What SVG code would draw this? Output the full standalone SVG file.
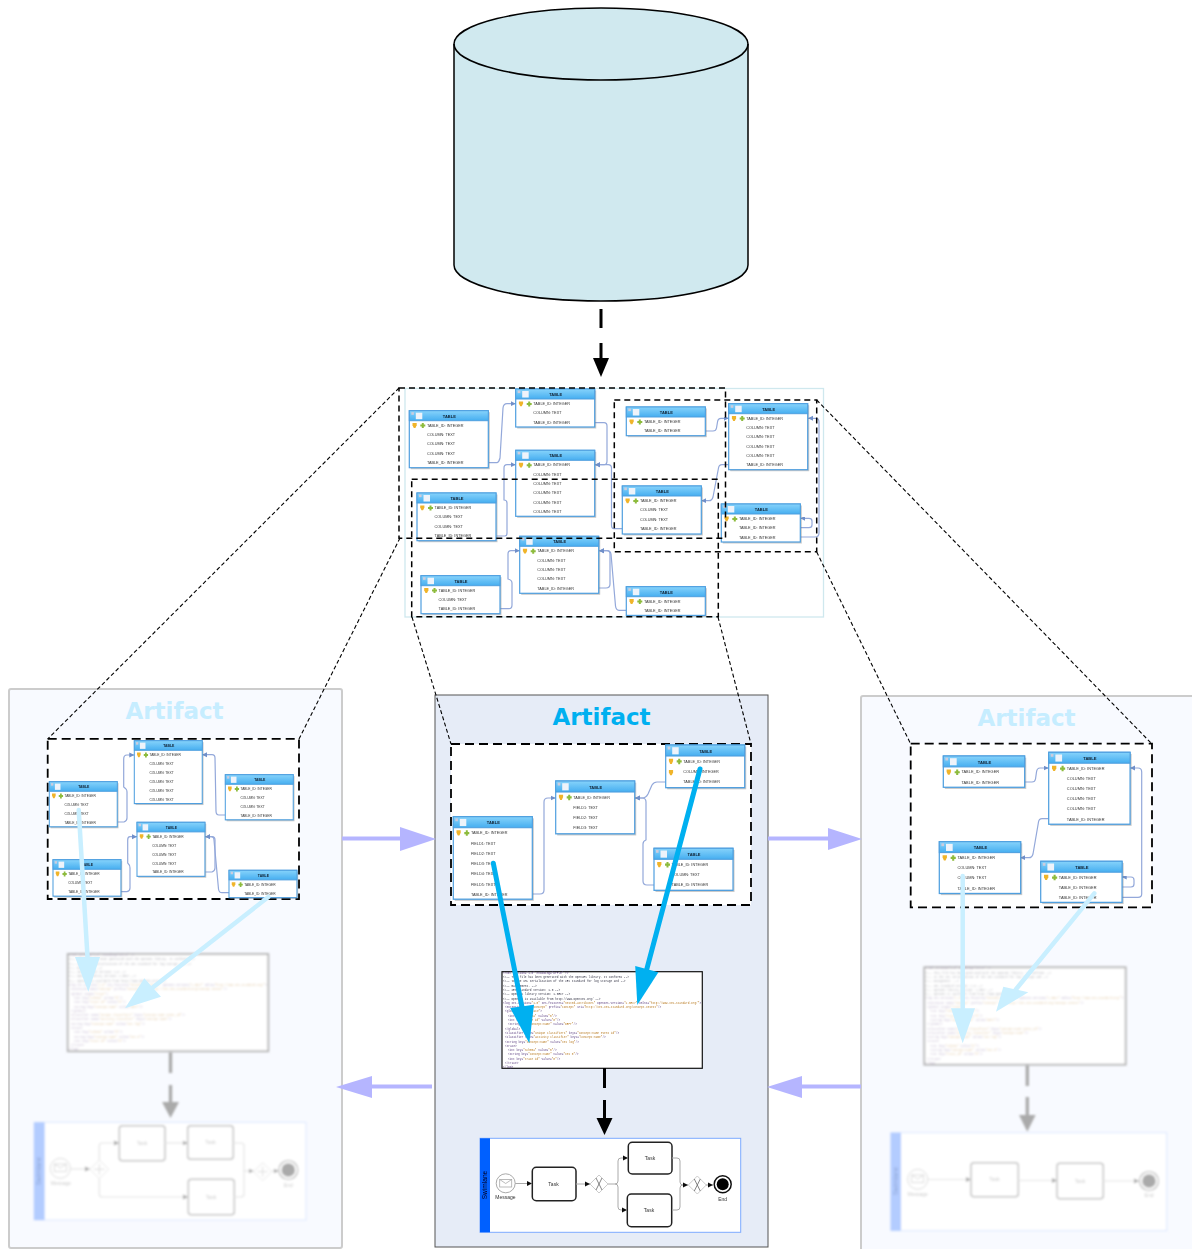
<svg xmlns="http://www.w3.org/2000/svg" width="1192" height="1249" viewBox="0 0 1192 1249">
<style>
text{font-family:"Liberation Sans",Arial,sans-serif}
.ht{font-size:4px;font-weight:bold;fill:#123;text-anchor:middle}
.r{font-size:3.8px;fill:#333}
.tb{filter:url(#soft)}
.sh{fill:#777;opacity:.4}
.bd{fill:#fff;stroke:#4f9fdf;stroke-width:1.200}
.cn{fill:none;stroke:#93a8da;stroke-width:1.200;stroke-linejoin:round;marker-end:url(#sm);filter:url(#soft)}
.dash{fill:none;stroke:#000;stroke-width:1.500;stroke-dasharray:6 4}
.dashw{fill:#fff;stroke:#000;stroke-width:1.800;stroke-dasharray:9 5}
.fun{fill:none;stroke:#000;stroke-width:1.100;stroke-dasharray:4 2.500}
.title{font-family:"DejaVu Sans",Verdana,sans-serif;font-weight:bold;font-size:23px;text-anchor:middle}
.x{font-family:"Liberation Mono","DejaVu Sans Mono",monospace;font-size:2.800px;fill:#334}
.t{fill:#5c3f80}
.v{fill:#b87a20}
.task{fill:#fff;stroke:#222;stroke-width:1.500}
.gw{fill:#fff;stroke:#ccc;stroke-width:1}
.ln{fill:none;stroke:#aaa;stroke-width:1}
.lnh{fill:none;stroke:#aaa;stroke-width:1;marker-end:url(#bh)}
.lb{font-size:5px;fill:#333;text-anchor:middle}
.sw{font-size:6.600px;fill:#002;text-anchor:middle}
.ftask{fill:#fff;stroke:#c4c4c4;stroke-width:1.500}
.fln{fill:none;stroke:#e4e4e4;stroke-width:1.200}
.flnh{fill:none;stroke:#e4e4e4;stroke-width:1.200;marker-end:url(#gh)}
.flb{font-size:5px;fill:#ccc;text-anchor:middle}
.fsw{font-size:6.600px;fill:#8fa6d6;text-anchor:middle}
.fgw{fill:#fff;stroke:#e8e8e8;stroke-width:1}
.soft{filter:url(#soft)}
.soft2{filter:url(#soft2)}
</style>
<defs>
<filter id="soft" x="-10%" y="-10%" width="120%" height="120%"><feGaussianBlur stdDeviation=".45"/></filter>
<filter id="soft2" x="-5%" y="-5%" width="110%" height="110%"><feGaussianBlur stdDeviation=".8"/></filter>
<linearGradient id="hg" x1="0" y1="0" x2="0" y2="1"><stop offset="0" stop-color="#86d3fb"/><stop offset="1" stop-color="#46aef0"/></linearGradient>
<marker id="sm" markerUnits="userSpaceOnUse" markerWidth="6" markerHeight="6" refX="5" refY="3" orient="auto"><path d="M0 .5L5 3L0 5.500z" fill="#6f8fc9"/></marker>
<marker id="bh" markerUnits="userSpaceOnUse" markerWidth="6" markerHeight="6" refX="5" refY="3" orient="auto"><path d="M0 .5L5 3L0 5.500z" fill="#111"/></marker>
<marker id="gh" markerUnits="userSpaceOnUse" markerWidth="6" markerHeight="6" refX="5" refY="3" orient="auto"><path d="M0 .5L5 3L0 5.500z" fill="#aaa"/></marker>
<g id="hd"><rect width="79" height="10" fill="url(#hg)" stroke="#4f9fdf"/><rect x="2" y="1.500" width="2.600" height="2.600" fill="#ccd"/><rect x="6.500" y="2" width="6.500" height="6.500" fill="#eef3fa"/></g>
<g id="k"><path d="M3.200-2.300h4.200v2.200l-1.300 2.600h-1.600l-1.300-2.600z" fill="#f0b429"/><path d="M11-.8h1.500v-1.500h2v1.500h1.500v2h-1.500v1.500h-2v-1.500h-1.500z" fill="#8dbb3c"/></g>
<g id="env"><rect x="-6" y="-3.500" width="12" height="7.500" fill="#fff" stroke="#aaa" stroke-width=".8"/><path d="M-6-3.500L0 .5L6-3.500" fill="none" stroke="#aaa" stroke-width=".8"/></g>
</defs>

<g id="database"><path d="M454 44a147 36 0 0 1 294 0v221a147 36 0 0 1-294 0z" fill="#d0e9ef" stroke="#000" stroke-width="1.500"/><path d="M454 44a147 36 0 0 0 294 0" fill="none" stroke="#000" stroke-width="1.500"/></g>

<g id="top-frame"><rect x="405" y="388.500" width="418.500" height="228.500" fill="#fff" stroke="#cfe8ee" stroke-width="1.300"/></g>

<g id="top-connectors">
<path class="cn" d="M488.700 462.700H497Q499 462 500 458L503 408Q503.500 403.700 507 403.700H515.700"/>
<path class="cn" d="M496.300 536H505Q507 536 507 533V503Q507 500 504 500V468Q504 464.700 507 464.700H515.700"/>
<path class="cn" d="M594.300 422.700H604Q607 422.700 607 426V461Q607 464.700 604 464.700H595"/>
<path class="cn" d="M622.300 528.700H614Q611.500 528.700 611.500 525V468Q611.500 464.700 608 464.700H595"/>
<path class="cn" d="M626.300 610.300H619Q616 610 615.500 606L611 554Q610.500 550.700 607 550.700H599"/>
<path class="cn" d="M598.300 588H606Q610 588 610 584V554Q610 550.700 607 550.700H599"/>
<path class="cn" d="M500.300 608.700H509Q512 608.700 512 605V583Q512 580 508 579V554Q508 550.700 511 550.700H519.700"/>
<path class="cn" d="M705.300 431H713Q716 431 716.500 428L717.500 422Q718 418.300 721 418.300H728.700"/>
<path class="cn" d="M728.700 464.700H722Q719 464.700 718.500 468L713 497Q712 500.700 709 500.700H701.300"/>
<path class="cn" d="M800.300 537H815Q819 537 819 533V422Q819 418.300 816 418.300H808"/>
<path class="cn" d="M800.300 527.700H809Q812 527.700 812 525V521Q812 518.300 809 518.300H800.300"/>
</g>

<g id="t1" class="tb" transform="translate(409.3,410.7)"><rect class="sh" x="1.500" y="1.500" width="79" height="57"/><rect class="bd" width="79" height="57"/><use href="#hd"/><text class="ht" x="40" y="7">TABLE</text><use href="#k" y="14.700"/><text class="r" x="17.600" y="16">TABLE_ID: INTEGER</text><text class="r" x="17.600" y="25.330">COLUMN: TEXT</text><text class="r" x="17.600" y="34.660">COLUMN: TEXT</text><text class="r" x="17.600" y="44">COLUMN: TEXT</text><text class="r" x="17.600" y="53.330">TABLE_ID: INTEGER</text></g>
<g id="t2" class="tb" transform="translate(515.7,389)"><rect class="sh" x="1.500" y="1.500" width="79" height="38"/><rect class="bd" width="79" height="38"/><use href="#hd"/><text class="ht" x="40" y="7">TABLE</text><use href="#k" y="14.700"/><text class="r" x="17.600" y="16">TABLE_ID: INTEGER</text><text class="r" x="17.600" y="25.330">COLUMN: TEXT</text><text class="r" x="17.600" y="34.660">TABLE_ID: INTEGER</text></g>
<g id="t3" class="tb" transform="translate(515.7,450.3)"><rect class="sh" x="1.500" y="1.500" width="79" height="66"/><rect class="bd" width="79" height="66"/><use href="#hd"/><text class="ht" x="40" y="7">TABLE</text><use href="#k" y="14.700"/><text class="r" x="17.600" y="16">TABLE_ID: INTEGER</text><text class="r" x="17.600" y="25.330">COLUMN: TEXT</text><text class="r" x="17.600" y="34.660">COLUMN: TEXT</text><text class="r" x="17.600" y="44">COLUMN: TEXT</text><text class="r" x="17.600" y="53.330">COLUMN: TEXT</text><text class="r" x="17.600" y="62.660">COLUMN: TEXT</text></g>
<g id="t4" class="tb" transform="translate(417,493)"><rect class="sh" x="1.500" y="1.500" width="79" height="47.700"/><rect class="bd" width="79" height="47.700"/><use href="#hd"/><text class="ht" x="40" y="7">TABLE</text><use href="#k" y="14.700"/><text class="r" x="17.600" y="16">TABLE_ID: INTEGER</text><text class="r" x="17.600" y="25.330">COLUMN: TEXT</text><text class="r" x="17.600" y="34.660">COLUMN: TEXT</text><text class="r" x="17.600" y="44">TABLE_ID: INTEGER</text></g>
<g id="t5" class="tb" transform="translate(519.7,536.3)"><rect class="sh" x="1.500" y="1.500" width="79" height="57"/><rect class="bd" width="79" height="57"/><use href="#hd"/><text class="ht" x="40" y="7">TABLE</text><use href="#k" y="14.700"/><text class="r" x="17.600" y="16">TABLE_ID: INTEGER</text><text class="r" x="17.600" y="25.330">COLUMN: TEXT</text><text class="r" x="17.600" y="34.660">COLUMN: TEXT</text><text class="r" x="17.600" y="44">COLUMN: TEXT</text><text class="r" x="17.600" y="53.330">TABLE_ID: INTEGER</text></g>
<g id="t6" class="tb" transform="translate(421,575.7)"><rect class="sh" x="1.500" y="1.500" width="79" height="38"/><rect class="bd" width="79" height="38"/><use href="#hd"/><text class="ht" x="40" y="7">TABLE</text><use href="#k" y="14.700"/><text class="r" x="17.600" y="16">TABLE_ID: INTEGER</text><text class="r" x="17.600" y="25.330">COLUMN: TEXT</text><text class="r" x="17.600" y="34.660">TABLE_ID: INTEGER</text></g>
<g id="t7" class="tb" transform="translate(626.3,586.7)"><rect class="sh" x="1.500" y="1.500" width="79" height="28.700"/><rect class="bd" width="79" height="28.700"/><use href="#hd"/><text class="ht" x="40" y="7">TABLE</text><use href="#k" y="14.700"/><text class="r" x="17.600" y="16">TABLE_ID: INTEGER</text><text class="r" x="17.600" y="25.330">TABLE_ID: INTEGER</text></g>
<g id="t8" class="tb" transform="translate(626.3,407)"><rect class="sh" x="1.500" y="1.500" width="79" height="28.700"/><rect class="bd" width="79" height="28.700"/><use href="#hd"/><text class="ht" x="40" y="7">TABLE</text><use href="#k" y="14.700"/><text class="r" x="17.600" y="16">TABLE_ID: INTEGER</text><text class="r" x="17.600" y="25.330">TABLE_ID: INTEGER</text></g>
<g id="t9" class="tb" transform="translate(728.7,403.7)"><rect class="sh" x="1.500" y="1.500" width="79" height="66"/><rect class="bd" width="79" height="66"/><use href="#hd"/><text class="ht" x="40" y="7">TABLE</text><use href="#k" y="14.700"/><text class="r" x="17.600" y="16">TABLE_ID: INTEGER</text><text class="r" x="17.600" y="25.330">COLUMN: TEXT</text><text class="r" x="17.600" y="34.660">COLUMN: TEXT</text><text class="r" x="17.600" y="44">COLUMN: TEXT</text><text class="r" x="17.600" y="53.330">COLUMN: TEXT</text><text class="r" x="17.600" y="62.660">TABLE_ID: INTEGER</text></g>
<g id="t10" class="tb" transform="translate(622.3,486)"><rect class="sh" x="1.500" y="1.500" width="79" height="48"/><rect class="bd" width="79" height="48"/><use href="#hd"/><text class="ht" x="40" y="7">TABLE</text><use href="#k" y="14.700"/><text class="r" x="17.600" y="16">TABLE_ID: INTEGER</text><text class="r" x="17.600" y="25.330">COLUMN: TEXT</text><text class="r" x="17.600" y="34.660">COLUMN: TEXT</text><text class="r" x="17.600" y="44">TABLE_ID: INTEGER</text></g>
<g id="t11" class="tb" transform="translate(721.3,504)"><rect class="sh" x="1.500" y="1.500" width="79" height="38"/><rect class="bd" width="79" height="38"/><use href="#hd"/><text class="ht" x="40" y="7">TABLE</text><use href="#k" y="14.700"/><text class="r" x="17.600" y="16">TABLE_ID: INTEGER</text><text class="r" x="17.600" y="25.330">TABLE_ID: INTEGER</text><text class="r" x="17.600" y="34.660">TABLE_ID: INTEGER</text></g>

<g id="selections"><rect class="dash" x="399" y="388" width="326.500" height="150.300"/><rect class="dash" x="411.700" y="479.300" width="306.600" height="137.400"/><rect class="dash" x="614.300" y="400" width="202.400" height="151.700"/></g>

<g id="panel-left"><rect x="9" y="689" width="333" height="559" rx="2" fill="#f8faff" stroke="#ccc" stroke-width="2"/><text class="title" x="174.500" y="719" fill="#c6edff">Artifact</text><rect class="dashw" x="47.700" y="738.800" width="251.300" height="160.200"/></g>
<g id="panel-center"><rect x="435" y="695" width="333" height="552" fill="#e6ecf7" stroke="#555" stroke-width="1"/><text class="title" x="601.500" y="725" fill="#00b0f0">Artifact</text><rect class="dashw" x="451" y="744" width="300" height="161"/></g>
<g id="panel-right"><rect x="861" y="696" width="340" height="560" rx="2" fill="#f8faff" stroke="#ccc" stroke-width="2"/><text class="title" x="1026.500" y="726" fill="#c6edff">Artifact</text><rect class="dashw" x="910.700" y="743.600" width="241.300" height="163.700"/></g>

<g id="funnels"><path class="fun" d="M399 388L47.700 739"/><path class="fun" d="M400 538L299 739"/><path class="fun" d="M412 617L451 744"/><path class="fun" d="M718 617L751 744"/><path class="fun" d="M816.700 400L1152 744"/><path class="fun" d="M816.700 552L910.700 744"/></g>

<g id="left-connectors">
<path class="cn" d="M117.300 822H124Q127 821 127 818V792Q127 789 123.700 787V759Q123.700 755 127 755H134.300"/>
<path class="cn" d="M225.300 815H219Q216 815 216 811L215 758Q215 754.700 212 754.700H202"/>
<path class="cn" d="M229 892.700H222Q219 892.700 218.500 889L214 840Q214 836.700 211 836.700H205.300"/>
<path class="cn" d="M205.300 872H212Q215 871 215 868V840Q215 836.700 212 836.700H205.300"/>
<path class="cn" d="M120.300 891.700H127Q130 891 130 888V868Q130 865 127.700 863V840Q127.700 836.700 130 836.700H137"/>
</g>
<g id="l1" class="tb" transform="translate(49.3,781.7) scale(.86,.96)"><rect class="sh" x="1.500" y="1.500" width="79" height="47"/><rect class="bd" width="79" height="47"/><use href="#hd"/><text class="ht" x="40" y="7">TABLE</text><use href="#k" y="14.700"/><text class="r" x="17.600" y="16">TABLE_ID: INTEGER</text><text class="r" x="17.600" y="25.330">COLUMN: TEXT</text><text class="r" x="17.600" y="34.660">COLUMN: TEXT</text><text class="r" x="17.600" y="44">TABLE_ID: INTEGER</text></g>
<g id="l2" class="tb" transform="translate(134.3,740.7) scale(.86,.96)"><rect class="sh" x="1.500" y="1.500" width="79" height="65.500"/><rect class="bd" width="79" height="65.500"/><use href="#hd"/><text class="ht" x="40" y="7">TABLE</text><use href="#k" y="14.700"/><text class="r" x="17.600" y="16">TABLE_ID: INTEGER</text><text class="r" x="17.600" y="25.330">COLUMN: TEXT</text><text class="r" x="17.600" y="34.660">COLUMN: TEXT</text><text class="r" x="17.600" y="44">COLUMN: TEXT</text><text class="r" x="17.600" y="53.330">COLUMN: TEXT</text><text class="r" x="17.600" y="62.660">COLUMN: TEXT</text></g>
<g id="l3" class="tb" transform="translate(225.3,774.7) scale(.86,.96)"><rect class="sh" x="1.500" y="1.500" width="79" height="47"/><rect class="bd" width="79" height="47"/><use href="#hd"/><text class="ht" x="40" y="7">TABLE</text><use href="#k" y="14.700"/><text class="r" x="17.600" y="16">TABLE_ID: INTEGER</text><text class="r" x="17.600" y="25.330">COLUMN: TEXT</text><text class="r" x="17.600" y="34.660">COLUMN: TEXT</text><text class="r" x="17.600" y="44">TABLE_ID: INTEGER</text></g>
<g id="l4" class="tb" transform="translate(137,822.3) scale(.86,.96)"><rect class="sh" x="1.500" y="1.500" width="79" height="56.300"/><rect class="bd" width="79" height="56.300"/><use href="#hd"/><text class="ht" x="40" y="7">TABLE</text><use href="#k" y="14.700"/><text class="r" x="17.600" y="16">TABLE_ID: INTEGER</text><text class="r" x="17.600" y="25.330">COLUMN: TEXT</text><text class="r" x="17.600" y="34.660">COLUMN: TEXT</text><text class="r" x="17.600" y="44">COLUMN: TEXT</text><text class="r" x="17.600" y="53.330">TABLE_ID: INTEGER</text></g>
<g id="l5" class="tb" transform="translate(53,859.7) scale(.86,.96)"><rect class="sh" x="1.500" y="1.500" width="79" height="38"/><rect class="bd" width="79" height="38"/><use href="#hd"/><text class="ht" x="40" y="7">TABLE</text><use href="#k" y="14.700"/><text class="r" x="17.600" y="16">TABLE_ID: INTEGER</text><text class="r" x="17.600" y="25.330">COLUMN: TEXT</text><text class="r" x="17.600" y="34.660">TABLE_ID: INTEGER</text></g>
<g id="l6" class="tb" transform="translate(229,870.3) scale(.86,.96)"><rect class="sh" x="1.500" y="1.500" width="79" height="28.500"/><rect class="bd" width="79" height="28.500"/><use href="#hd"/><text class="ht" x="40" y="7">TABLE</text><use href="#k" y="14.700"/><text class="r" x="17.600" y="16">TABLE_ID: INTEGER</text><text class="r" x="17.600" y="25.330">TABLE_ID: INTEGER</text></g>

<g id="center-connectors">
<path class="cn" d="M532.300 894H540Q544 894 544 890V802Q544 798 548 798H555.700"/>
<path class="cn" d="M665.700 782H657Q654 782 652 785L648 794Q646 798 642 798H635"/>
<path class="cn" d="M654 885H647Q643 885 643 881V844Q643 841 646 840V802Q646 798 642 798H635"/>
</g>
<g id="c1" class="tb" transform="translate(453.3,816.7) scale(1,1.1)"><rect class="sh" x="1.500" y="1.500" width="79" height="75"/><rect class="bd" width="79" height="75"/><use href="#hd"/><text class="ht" x="40" y="7">TABLE</text><use href="#k" y="14.700"/><text class="r" x="17.600" y="16">TABLE_ID: INTEGER</text><text class="r" x="17.600" y="25.330">FIELD1: TEXT</text><text class="r" x="17.600" y="34.660">FIELD2: TEXT</text><text class="r" x="17.600" y="44">FIELD3: TEXT</text><text class="r" x="17.600" y="53.330">FIELD4: TEXT</text><text class="r" x="17.600" y="62.660">FIELD5: TEXT</text><text class="r" x="17.600" y="72">TABLE_ID: INTEGER</text></g>
<g id="c2" class="tb" transform="translate(555.7,781) scale(1,1.1)"><rect class="sh" x="1.500" y="1.500" width="79" height="48"/><rect class="bd" width="79" height="48"/><use href="#hd"/><text class="ht" x="40" y="7">TABLE</text><use href="#k" y="14.700"/><text class="r" x="17.600" y="16">TABLE_ID: INTEGER</text><text class="r" x="17.600" y="25.330">FIELD1: TEXT</text><text class="r" x="17.600" y="34.660">FIELD2: TEXT</text><text class="r" x="17.600" y="44">FIELD3: TEXT</text></g>
<g id="c3" class="tb" transform="translate(665.7,745) scale(1,1.1)"><rect class="sh" x="1.500" y="1.500" width="79" height="38.800"/><rect class="bd" width="79" height="38.800"/><use href="#hd"/><text class="ht" x="40" y="7">TABLE</text><use href="#k" y="14.700"/><text class="r" x="17.600" y="16">TABLE_ID: INTEGER</text><path d="M3.200 22.700h4.200v2.200l-1.300 2.600h-1.600l-1.300-2.600z" fill="#f0b429"/><text class="r" x="17.600" y="25.330">COLUMN: INTEGER</text><text class="r" x="17.600" y="34.660">TABLE_ID: INTEGER</text></g>
<g id="c4" class="tb" transform="translate(654,848.3) scale(1,1.1)"><rect class="sh" x="1.500" y="1.500" width="79" height="38.200"/><rect class="bd" width="79" height="38.200"/><use href="#hd"/><text class="ht" x="40" y="7">TABLE</text><use href="#k" y="14.700"/><text class="r" x="17.600" y="16">TABLE_ID: INTEGER</text><text class="r" x="17.600" y="25.330">COLUMN: TEXT</text><text class="r" x="17.600" y="34.660">TABLE_ID: INTEGER</text></g>

<g id="right-connectors">
<path class="cn" d="M1024.300 782H1032Q1035 782 1035.500 779L1036.500 772Q1037 768 1040 768H1048.700"/>
<path class="cn" d="M1048.700 818.700H1042Q1039 818.700 1038.500 822L1033 854Q1032 857.700 1029 857.700H1020.300"/>
<path class="cn" d="M1121.700 897.300H1138Q1141.700 897.300 1141.700 894V772Q1141.700 768 1138 768H1130"/>
<path class="cn" d="M1121.700 887H1131Q1134 887 1134 884V880Q1134 877 1131 877H1121.700"/>
</g>
<g id="r1" class="tb" transform="translate(943.3,756) scale(1.03,1.09)"><rect class="sh" x="1.500" y="1.500" width="79" height="28.700"/><rect class="bd" width="79" height="28.700"/><use href="#hd"/><text class="ht" x="40" y="7">TABLE</text><use href="#k" y="14.700"/><text class="r" x="17.600" y="16">TABLE_ID: INTEGER</text><text class="r" x="17.600" y="25.330">TABLE_ID: INTEGER</text></g>
<g id="r2" class="tb" transform="translate(1048.7,752.3) scale(1.03,1.09)"><rect class="sh" x="1.500" y="1.500" width="79" height="66"/><rect class="bd" width="79" height="66"/><use href="#hd"/><text class="ht" x="40" y="7">TABLE</text><use href="#k" y="14.700"/><text class="r" x="17.600" y="16">TABLE_ID: INTEGER</text><text class="r" x="17.600" y="25.330">COLUMN: TEXT</text><text class="r" x="17.600" y="34.660">COLUMN: TEXT</text><text class="r" x="17.600" y="44">COLUMN: TEXT</text><text class="r" x="17.600" y="53.330">COLUMN: TEXT</text><text class="r" x="17.600" y="62.660">TABLE_ID: INTEGER</text></g>
<g id="r3" class="tb" transform="translate(939.3,841.7) scale(1.03,1.09)"><rect class="sh" x="1.500" y="1.500" width="79" height="47.500"/><rect class="bd" width="79" height="47.500"/><use href="#hd"/><text class="ht" x="40" y="7">TABLE</text><use href="#k" y="14.700"/><text class="r" x="17.600" y="16">TABLE_ID: INTEGER</text><text class="r" x="17.600" y="25.330">COLUMN: TEXT</text><text class="r" x="17.600" y="34.660">COLUMN: TEXT</text><text class="r" x="17.600" y="44">TABLE_ID: INTEGER</text></g>
<g id="r4" class="tb" transform="translate(1040.7,861.3) scale(1.03,1.09)"><rect class="sh" x="1.500" y="1.500" width="79" height="37.700"/><rect class="bd" width="79" height="37.700"/><use href="#hd"/><text class="ht" x="40" y="7">TABLE</text><use href="#k" y="14.700"/><text class="r" x="17.600" y="16">TABLE_ID: INTEGER</text><text class="r" x="17.600" y="25.330">TABLE_ID: INTEGER</text><text class="r" x="17.600" y="34.660">TABLE_ID: INTEGER</text></g>

<g id="doc-center" class="soft"><rect x="502" y="971.700" width="200.300" height="96.600" fill="#fff" stroke="#111" stroke-width="1.200"/>
<g id="xml">
<text class="x" x="503" y="973.700"><tspan class="t">&lt;?xml version="1.0" encoding="UTF-8" ?&gt;</tspan></text>
<text class="x" x="503" y="978">&lt;!-- This file has been generated with the OpenXES library. It conforms --&gt;</text>
<text class="x" x="503" y="982.300">&lt;!-- to the XML serialization of the XES standard for log storage and --&gt;</text>
<text class="x" x="503" y="986.600">&lt;!-- management. --&gt;</text>
<text class="x" x="503" y="990.900">&lt;!-- XES standard version: 1.0 --&gt;</text>
<text class="x" x="503" y="995.200">&lt;!-- OpenXES library version: 1.0RC7 --&gt;</text>
<text class="x" x="503" y="999.500">&lt;!-- OpenXES is available from http://www.openxes.org/ --&gt;</text>
<text class="x" x="503" y="1003.800"><tspan class="t">&lt;log xes.version=</tspan><tspan class="v">"1.0"</tspan><tspan class="t"> xes.features=</tspan><tspan class="v">"nested-attributes"</tspan><tspan class="t"> openxes.version=</tspan><tspan class="v">"1.0RC7"</tspan><tspan class="t"> xmlns=</tspan><tspan class="v">"http://www.xes-standard.org/"</tspan><tspan class="t">&gt;</tspan></text>
<text class="x" x="505" y="1008.100"><tspan class="t">&lt;extension name=</tspan><tspan class="v">"Concept"</tspan><tspan class="t"> prefix=</tspan><tspan class="v">"concept"</tspan><tspan class="t"> uri=</tspan><tspan class="v">"http://xes.xes-standard.org/concept.xesext"</tspan><tspan class="t">/&gt;</tspan></text>
<text class="x" x="505" y="1012.400"><tspan class="t">&lt;global scope=</tspan><tspan class="v">"trace"</tspan><tspan class="t">&gt;</tspan></text>
<text class="x" x="508" y="1016.700"><tspan class="t">&lt;int key=</tspan><tspan class="v">"Schema"</tspan><tspan class="t"> value=</tspan><tspan class="v">"0"</tspan><tspan class="t">/&gt;</tspan></text>
<text class="x" x="508" y="1021"><tspan class="t">&lt;int key=</tspan><tspan class="v">"trace_id"</tspan><tspan class="t"> value=</tspan><tspan class="v">"0"</tspan><tspan class="t">/&gt;</tspan></text>
<text class="x" x="508" y="1025.300"><tspan class="t">&lt;string key=</tspan><tspan class="v">"concept:name"</tspan><tspan class="t"> value=</tspan><tspan class="v">"DEPT"</tspan><tspan class="t">/&gt;</tspan></text>
<text class="x" x="505" y="1029.600"><tspan class="t">&lt;/global&gt;</tspan></text>
<text class="x" x="505" y="1033.900"><tspan class="t">&lt;classifier name=</tspan><tspan class="v">"Unique classifiers"</tspan><tspan class="t"> keys=</tspan><tspan class="v">"concept:name event_id"</tspan><tspan class="t">/&gt;</tspan></text>
<text class="x" x="505" y="1038.200"><tspan class="t">&lt;classifier name=</tspan><tspan class="v">"Activity classifier"</tspan><tspan class="t"> keys=</tspan><tspan class="v">"concept:name"</tspan><tspan class="t">/&gt;</tspan></text>
<text class="x" x="505" y="1042.500"><tspan class="t">&lt;string key=</tspan><tspan class="v">"concept:name"</tspan><tspan class="t"> value=</tspan><tspan class="v">"xes log"</tspan><tspan class="t">/&gt;</tspan></text>
<text class="x" x="505" y="1046.800"><tspan class="t">&lt;trace&gt;</tspan></text>
<text class="x" x="508" y="1051.100"><tspan class="t">&lt;int key=</tspan><tspan class="v">"Schema"</tspan><tspan class="t"> value=</tspan><tspan class="v">"0"</tspan><tspan class="t">/&gt;</tspan></text>
<text class="x" x="508" y="1055.400"><tspan class="t">&lt;string key=</tspan><tspan class="v">"concept:name"</tspan><tspan class="t"> value=</tspan><tspan class="v">"xes 0"</tspan><tspan class="t">/&gt;</tspan></text>
<text class="x" x="508" y="1059.700"><tspan class="t">&lt;int key=</tspan><tspan class="v">"trace_id"</tspan><tspan class="t"> value=</tspan><tspan class="v">"0"</tspan><tspan class="t">/&gt;</tspan></text>
<text class="x" x="505" y="1064"><tspan class="t">&lt;/trace&gt;</tspan></text>
<text class="x" x="503" y="1068"><tspan class="t">&lt;/log&gt;</tspan></text>
</g></g>
<g id="doc-left" class="soft2"><rect x="67.700" y="954" width="200.600" height="97.300" fill="#fff" stroke="#b4b4b4" stroke-width="1.800"/><use href="#xml" transform="translate(-434.3,-17.7)" opacity=".4"/></g>
<g id="doc-right" class="soft2"><rect x="924.300" y="967.300" width="201.400" height="97.400" fill="#fff" stroke="#b4b4b4" stroke-width="1.800"/><use href="#xml" transform="translate(422.3,-4.3)" opacity=".4"/></g>

<g id="bpmn-center" class="soft">
<rect x="480" y="1138.300" width="260.700" height="94" fill="#fff" stroke="#7eaaff"/><rect x="480" y="1138.300" width="10" height="94" fill="#0060ff"/>
<text class="sw" transform="translate(487.3,1185) rotate(-90)">Swimlane</text>
<g id="cb-msg"><circle cx="505.700" cy="1183.300" r="9.500" fill="#fff" stroke="#aaa"/><use href="#env" x="505.700" y="1183"/><text class="lb" x="505.500" y="1199">Message</text></g>
<g id="cb-t1"><rect class="task" x="532.300" y="1167.300" width="43.700" height="33.400" rx="4"/><text class="lb" x="553.500" y="1185.500">Task</text></g>
<g id="cb-gw1"><path class="gw" d="M599 1175l9 9l-9 9l-9-9z"/><path d="M596 1178l6 12M602 1178l-6 12" stroke="#666" stroke-width=".8"/></g>
<g id="cb-t2"><rect class="task" x="628.300" y="1142.300" width="43.700" height="31.700" rx="4"/><text class="lb" x="650" y="1159.700">Task</text></g>
<g id="cb-t3"><rect class="task" x="627.300" y="1194" width="44.400" height="32.700" rx="4"/><text class="lb" x="649" y="1211.700">Task</text></g>
<g id="cb-gw2"><path class="gw" d="M697.300 1176l9 9l-9 9l-9-9z"/><path d="M694.300 1179l6 12M700.300 1179l-6 12" stroke="#666" stroke-width=".8"/></g>
<g id="cb-end"><circle cx="722.700" cy="1184.300" r="8.500" fill="#fff" stroke="#111" stroke-width="1.500"/><circle cx="722.700" cy="1184.300" r="6" fill="#000"/><text class="lb" x="722.700" y="1200.500">End</text></g>
</g>
<g id="bpmn-center-connectors" class="soft">
<path class="lnh" d="M515.200 1183.500H532"/><path class="lnh" d="M576 1184H590"/><path class="ln" d="M608 1184H615Q618 1184 618 1181V1161Q618 1158 621 1158"/><path class="lnh" d="M621 1158H628"/><path class="ln" d="M615 1184Q618 1184 618 1187V1207Q618 1210 621 1210"/><path class="lnh" d="M621 1210H627"/><path class="ln" d="M672 1158H677Q680 1158 680 1161V1182Q680 1185 683 1185"/><path class="ln" d="M672 1210H677Q680 1210 680 1207V1188Q680 1185 683 1185"/><path class="lnh" d="M683 1185H688"/><path class="lnh" d="M706 1185H713"/>
</g>

<g id="bpmn-left" class="soft2">
<rect x="34" y="1122.300" width="272" height="97.700" fill="#fff" stroke="#dde8ff"/><rect x="34" y="1122.300" width="10.700" height="97.700" fill="#b3ccff"/>
<text class="fsw" transform="translate(41.300,1171) rotate(-90)">Swimlane</text>
<circle cx="60.300" cy="1168.300" r="10" fill="#fff" stroke="#ddd"/><use href="#env" x="60.300" y="1167.500" opacity=".5"/><text class="flb" x="61" y="1185">Message</text>
<path class="flnh" d="M70.300 1169H90"/>
<path class="fgw" d="M99.300 1160l9.300 9.300l-9.300 9.300l-9.300-9.300z"/><path d="M99.300 1164v10.600M94 1169.300h10.600" stroke="#ddd"/>
<path class="flnh" d="M99.300 1160V1146Q99.300 1143 102 1143H119"/><path class="flnh" d="M99.300 1178.600V1194Q99.300 1197 102 1197H188"/>
<rect class="ftask" x="119.300" y="1125.700" width="45.700" height="35" rx="3"/><text class="flb" x="142" y="1145">Task</text>
<path class="flnh" d="M165 1143H187.700"/>
<rect class="ftask" x="187.700" y="1125.700" width="45.600" height="33.600" rx="3"/><text class="flb" x="210.500" y="1144">Task</text>
<rect class="ftask" x="188.300" y="1179.300" width="46" height="35.400" rx="3"/><text class="flb" x="211" y="1198.500">Task</text>
<path class="fln" d="M233.300 1143H241Q244 1143 244 1146V1171"/><path class="fln" d="M234.300 1197H241Q244 1197 244 1194V1171"/><path class="flnh" d="M244 1171H253.500"/>
<path class="fgw" d="M262.700 1162.700l9 9l-9 9l-9-9z"/><path d="M262.700 1166.700v10M257.700 1171.700h10" stroke="#ddd"/>
<path class="flnh" d="M272 1171H278.500"/>
<circle cx="288.300" cy="1170" r="9.500" fill="#fff" stroke="#bbb" stroke-width="1.200"/><circle cx="288.300" cy="1170" r="6.800" fill="#aaa"/><text class="flb" x="288.300" y="1186.500">End</text>
</g>

<g id="bpmn-right" class="soft2">
<rect x="890.700" y="1132.700" width="276" height="98" fill="#fff" stroke="#dde8ff"/><rect x="890.700" y="1132.700" width="10.300" height="98" fill="#b3ccff"/>
<text class="fsw" transform="translate(898,1181) rotate(-90)">Swimlane</text>
<circle cx="917.700" cy="1179.300" r="10" fill="#fff" stroke="#ddd"/><use href="#env" x="917.700" y="1178.500" opacity=".5"/><text class="flb" x="917.700" y="1195.500">Message</text>
<path class="flnh" d="M927.700 1179.500H971"/>
<rect class="ftask" x="971" y="1162.700" width="47.300" height="34" rx="3"/><text class="flb" x="994.500" y="1181">Task</text>
<path class="flnh" d="M1018.300 1180.500H1057"/>
<rect class="ftask" x="1057" y="1163.300" width="46.300" height="35.400" rx="3"/><text class="flb" x="1080" y="1182.500">Task</text>
<path class="flnh" d="M1103.300 1181H1139"/>
<circle cx="1149" cy="1181" r="9.500" fill="#fff" stroke="#bbb" stroke-width="1.200"/><circle cx="1149" cy="1181" r="6.800" fill="#aaa"/><text class="flb" x="1149" y="1197">End</text>
</g>

<g id="connectors">
<path d="M601 309V328M601 343V360" fill="none" stroke="#000" stroke-width="3"/><path d="M593 358H609L601 377z" fill="#000"/>
<path d="M604.500 1068V1088M604.500 1100V1120" fill="none" stroke="#000" stroke-width="3"/><path d="M596.500 1118H612.500L604.500 1135z" fill="#000"/>
<g class="soft2"><path d="M170.500 1052V1073M170.500 1085V1104" fill="none" stroke="#aaa" stroke-width="3.300"/><path d="M162 1102H179L170.500 1118z" fill="#aaa"/>
<path d="M1027.300 1065V1086M1027.300 1097V1116" fill="none" stroke="#aaa" stroke-width="3.300"/><path d="M1019 1115H1035.600L1027.300 1131.700z" fill="#aaa"/></g>
<path d="M342 838.500H402" fill="none" stroke="#b5b5ff" stroke-width="4"/><path d="M400 827L436 839L400 851z" fill="#b5b5ff"/>
<path d="M768 838.500H830" fill="none" stroke="#b5b5ff" stroke-width="4"/><path d="M828 828L862 839L828 850z" fill="#b5b5ff"/>
<path d="M432 1086.500H370" fill="none" stroke="#b5b5ff" stroke-width="4"/><path d="M372 1076L336 1087L372 1098z" fill="#b5b5ff"/>
<path d="M861 1086.500H800" fill="none" stroke="#b5b5ff" stroke-width="4"/><path d="M802 1076L767 1087L802 1098z" fill="#b5b5ff"/>
<path d="M493.300 863.300L522 1007" fill="none" stroke="#00b0f0" stroke-width="5" stroke-linecap="round"/><path d="M510.200 1008L534 1004.800L529.300 1043.300z" fill="#00b0f0"/>
<path d="M700 769L646.800 969.200" fill="none" stroke="#00b0f0" stroke-width="5" stroke-linecap="round"/><path d="M635.200 966L658.400 972.300L637.300 1005z" fill="#00b0f0"/>
<g class="soft"><path d="M78.700 810L87.500 957" fill="none" stroke="#c9efff" stroke-width="4.500" stroke-linecap="round"/><path d="M75 957H100L88.300 991.700z" fill="#c9efff"/>
<path d="M268.300 897L152.700 987.500" fill="none" stroke="#c9efff" stroke-width="4.500" stroke-linecap="round"/><path d="M144.300 978.300L161 996.700L125 1008.300z" fill="#c9efff"/>
<path d="M962.700 876V1008" fill="none" stroke="#c9efff" stroke-width="4.500" stroke-linecap="round"/><path d="M951 1008.300H975L962.700 1043.300z" fill="#c9efff"/>
<path d="M1094.300 893.300L1015.800 989.500" fill="none" stroke="#c9efff" stroke-width="4.500" stroke-linecap="round"/><path d="M1003.300 986.700L1028.300 992.300L996 1011.700z" fill="#c9efff"/></g>
</g>
</svg>
